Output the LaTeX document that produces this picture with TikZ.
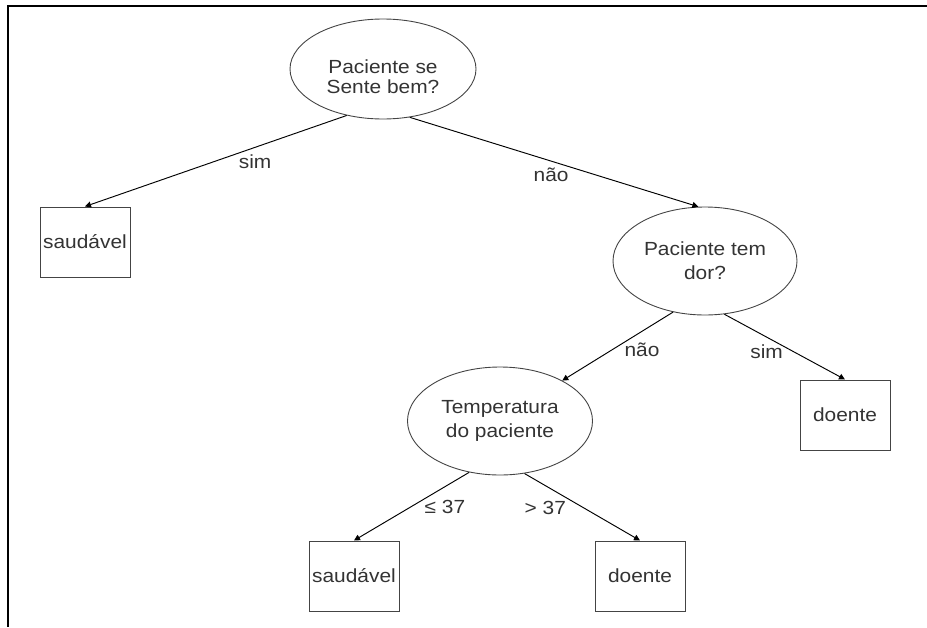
\documentclass[tikz,border=0pt]{standalone}
\usepackage{fontspec}
\setmainfont{Liberation Sans}[FakeStretch=1.1]
\usepackage{tikz}
\usetikzlibrary{positioning,arrows.meta,shapes.geometric}

\definecolor{ink}{HTML}{333333}
\definecolor{rim}{HTML}{444444}

\begin{document}
\begin{tikzpicture}[
  x=1pt,y=-1pt,on grid,
  font=\fontsize{19}{24}\selectfont,
  test/.style={draw=rim,ellipse,line width=0.9pt,text=ink,align=center,inner sep=0pt,minimum width=186pt,minimum height=100pt},
  leaf/.style={draw=rim,rectangle,line width=1pt,text=ink,inner sep=2pt,minimum width=90pt,minimum height=70pt},
  lbl/.style={text=ink,inner sep=1pt},
  every edge/.style={draw,line width=0.95pt,-{Triangle[length=6pt,width=6pt]}},
]
  \useasboundingbox (0,0) rectangle (927,627);
  % frame
  \draw[line width=1.4pt] (927,6) -- (8,6) -- (8,627);

  % questions
  \node[test,text height=50pt] (feel) at (383,69) {\shortstack{Paciente se\\[3pt]Sente bem?}};
  \node[test,below right=192pt and 322pt of feel,minimum width=184pt,minimum height=108pt] (pain) {Paciente tem\\dor?};
  \node[test,below left=160pt and 205pt of pain,minimum width=185pt,minimum height=108pt] (temp) {Temperatura\\do paciente};

  % answers
  \node[leaf,below left=173pt and 298pt of feel] (ok1) {saudável};
  \node[leaf,below right=154pt and 140pt of pain] (sick1) {doente};
  \node[leaf,below left=155pt and 146pt of temp] (ok2) {saudável};
  \node[leaf,below right=155pt and 140pt of temp] (sick2) {doente};

  % edges
  \path (feel.232) edge node[lbl,pos=0.35,below=6pt] {sim} (ok1.north);
  \path (feel.299) edge node[lbl,pos=0.49,below=5pt] {não} (pain.97);
  \path (pain.238) edge node[lbl,pos=0.28,below=10pt] {não} (temp.33);
  \path (pain.290) edge node[lbl,pos=0.35,below=6pt] {sim} (sick1.north);
  \path (temp.239) edge node[lbl,pos=0.21,below=12pt] {≤ 37} (ok2.north);
  \path (temp.295) edge node[lbl,pos=0.18,below=14pt] {> 37} (sick2.north);
\end{tikzpicture}
\end{document}
